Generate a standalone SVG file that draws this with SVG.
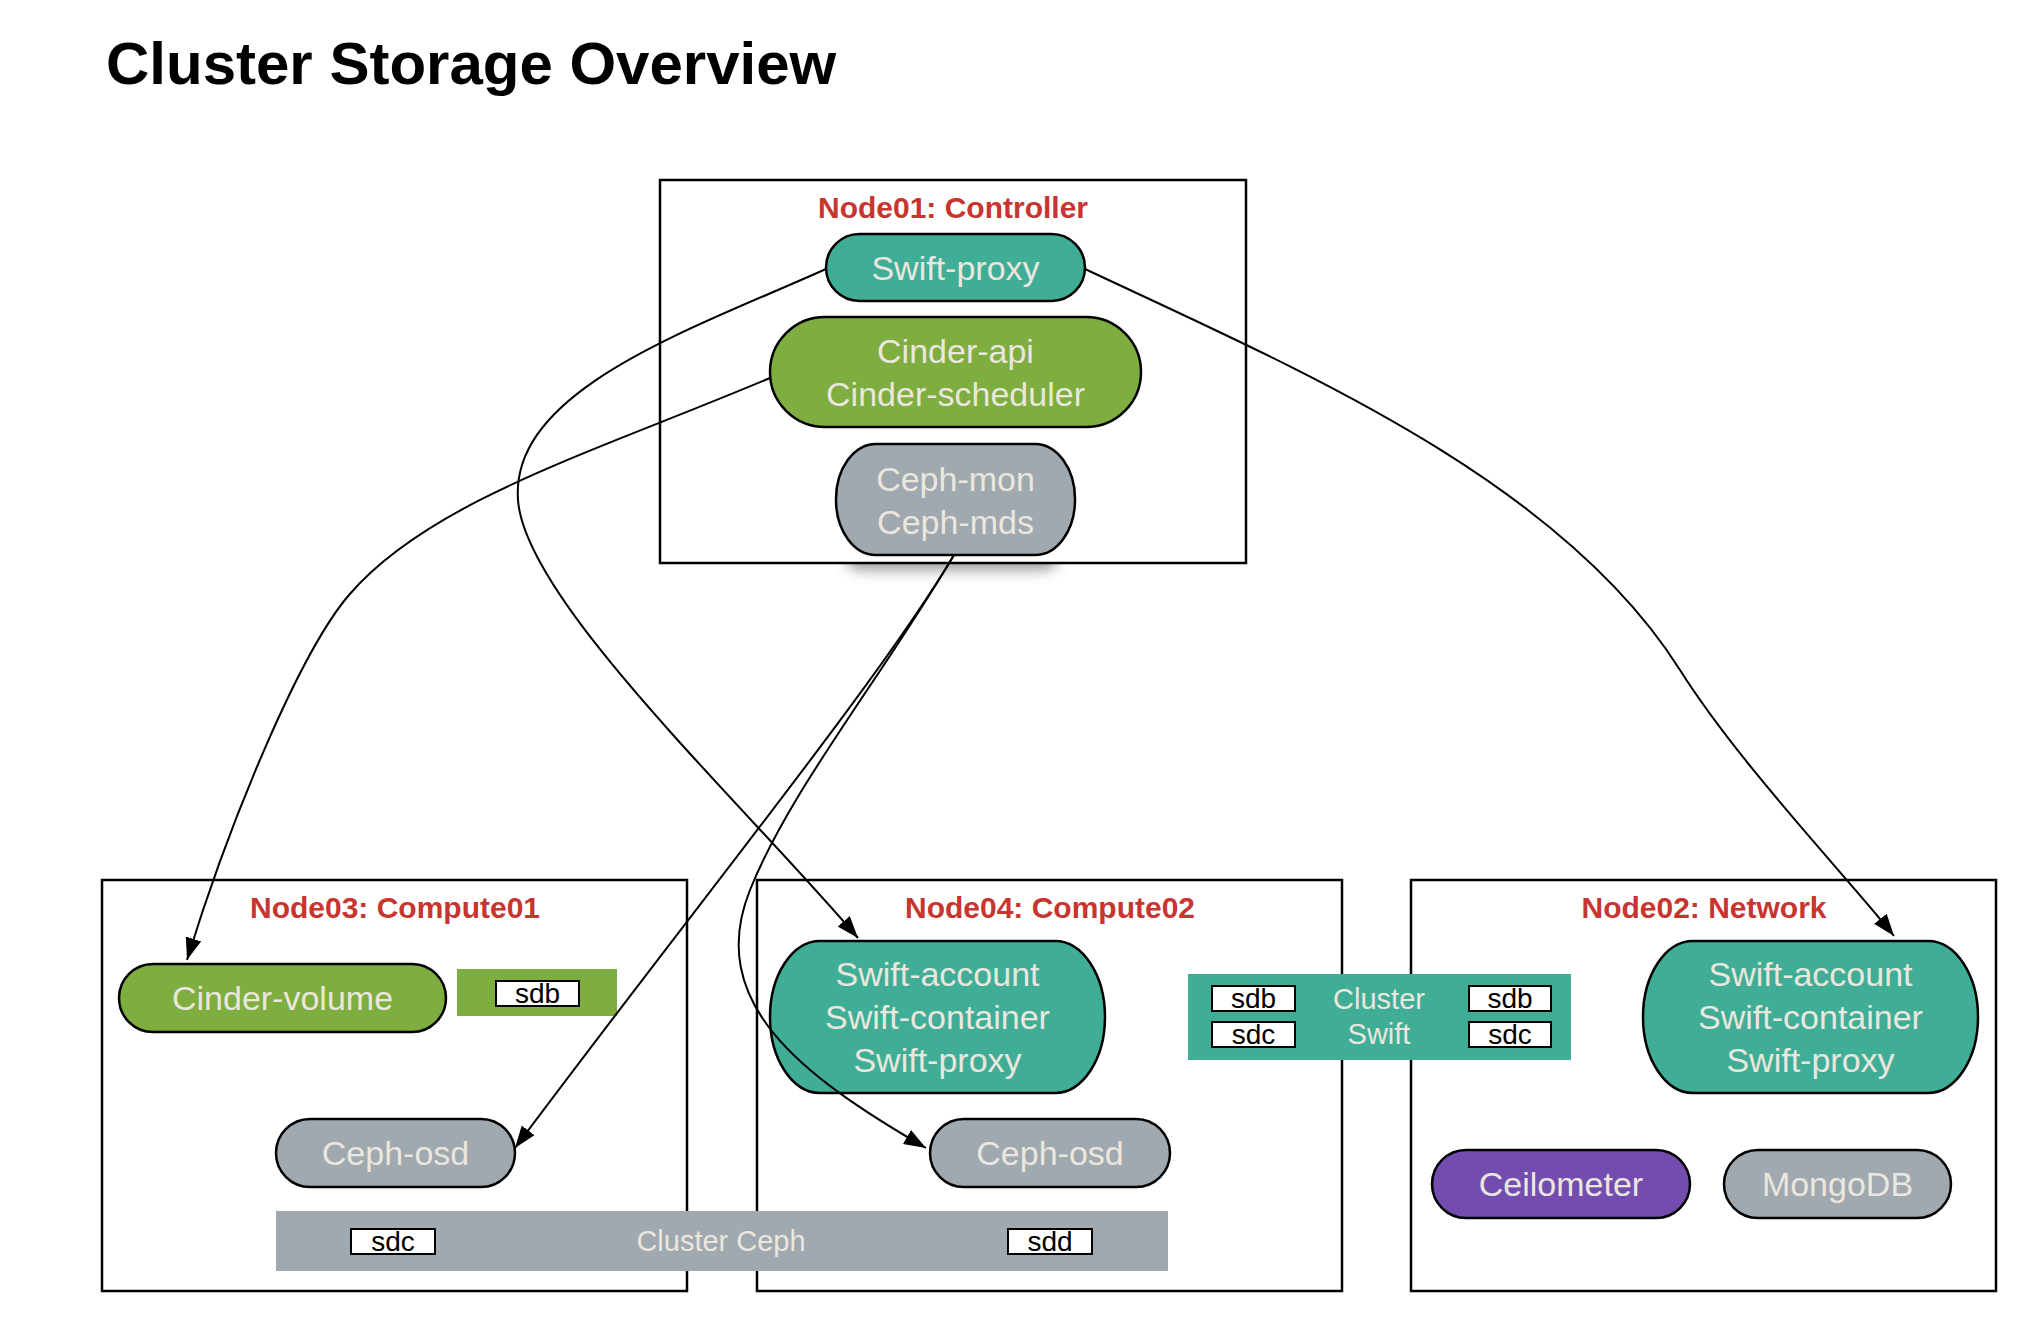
<svg xmlns="http://www.w3.org/2000/svg" width="2025" height="1317" viewBox="0 0 2025 1317">
<defs>
<style>
text{font-family:"Liberation Sans",Arial,Helvetica,sans-serif}
.box{fill:#fff;stroke:#000;stroke-width:2.5}
.ntitle{font-weight:bold;font-size:30px;fill:#c8352f;text-anchor:middle}
.pill{stroke:#000;stroke-width:2.5}
.swift{fill:#40ae96}
.cinder{fill:#7ead40}
.ceph{fill:#9fa9af}
.ceilo{fill:#724daf}
.lbl{font-size:34px;fill:#ebe6de;text-anchor:middle}
.btxt{font-size:29px;fill:#ebe6de;text-anchor:middle}
.disk{fill:#fff;stroke:#000;stroke-width:2}
.dtxt{font-size:28px;fill:#000;text-anchor:middle}
.edge{fill:none;stroke:#000;stroke-width:2;marker-end:url(#arrow)}
</style>
<marker id="arrow" markerUnits="userSpaceOnUse" markerWidth="24" markerHeight="18" refX="22" refY="8" orient="auto">
<path d="M0,0 L22,8 L0,16 z" fill="#000"/>
</marker>
<filter id="blur" x="-20%" y="-60%" width="140%" height="220%"><feGaussianBlur stdDeviation="7"/></filter>
</defs>

<text x="106" y="84" font-size="60" font-weight="bold" fill="#000">Cluster Storage Overview</text>

<!-- shadow under Ceph-mon -->
<rect x="846" y="530" width="212" height="40" rx="14" fill="#8a8a8a" opacity="0.85" filter="url(#blur)"/>

<g id="node01">
<rect class="box" x="660" y="180" width="586" height="383"/>
<text class="ntitle" x="953" y="218">Node01: Controller</text>
</g>
<g id="node03">
<rect class="box" x="102" y="880" width="585" height="411"/>
<text class="ntitle" x="395" y="918">Node03: Compute01</text>
</g>
<g id="node04">
<rect class="box" x="757" y="880" width="585" height="411"/>
<text class="ntitle" x="1050" y="918">Node04: Compute02</text>
</g>
<g id="node02">
<rect class="box" x="1411" y="880" width="585" height="411"/>
<text class="ntitle" x="1704" y="918">Node02: Network</text>
</g>

<g id="swift-proxy-ctl">
<rect class="pill swift" x="826" y="234" width="259" height="67" rx="33.5"/>
<text class="lbl" x="955.5" y="280">Swift-proxy</text>
</g>
<g id="cinder-api">
<rect class="pill cinder" x="770" y="317" width="371" height="110" rx="55"/>
<text class="lbl" x="955.5" y="363">Cinder-api</text>
<text class="lbl" x="955.5" y="406">Cinder-scheduler</text>
</g>
<g id="ceph-mon">
<rect class="pill ceph" x="836" y="444" width="239" height="111" rx="40" ry="55"/>
<text class="lbl" x="955.5" y="491">Ceph-mon</text>
<text class="lbl" x="955.5" y="534">Ceph-mds</text>
</g>

<g id="cinder-volume">
<rect class="pill cinder" x="119" y="964" width="327" height="68" rx="34"/>
<text class="lbl" x="282.5" y="1010">Cinder-volume</text>
</g>
<g id="sdb-cinder">
<rect x="457" y="969" width="160" height="47" fill="#7ead40"/>
<rect class="disk" x="496" y="981" width="83" height="25"/>
<text class="dtxt" x="537.5" y="1003">sdb</text>
</g>
<g id="ceph-osd-1">
<rect class="pill ceph" x="276" y="1119" width="239" height="68" rx="34"/>
<text class="lbl" x="395.5" y="1165">Ceph-osd</text>
</g>

<g id="cluster-ceph">
<rect x="276" y="1211" width="892" height="60" fill="#9fa9af"/>
<rect class="disk" x="351" y="1229" width="84" height="25"/>
<text class="dtxt" x="393" y="1251">sdc</text>
<rect class="disk" x="1008" y="1229" width="84" height="25"/>
<text class="dtxt" x="1050" y="1251">sdd</text>
<text class="btxt" x="721" y="1251">Cluster Ceph</text>
</g>

<g id="swift-storage-1">
<rect class="pill swift" x="770" y="941" width="335" height="152" rx="50" ry="76"/>
<text class="lbl" x="937.5" y="986">Swift-account</text>
<text class="lbl" x="937.5" y="1029">Swift-container</text>
<text class="lbl" x="937.5" y="1072">Swift-proxy</text>
</g>
<g id="ceph-osd-2">
<rect class="pill ceph" x="930" y="1119" width="240" height="68" rx="34"/>
<text class="lbl" x="1050" y="1165">Ceph-osd</text>
</g>

<g id="cluster-swift">
<rect x="1188" y="974" width="383" height="86" fill="#40ae96"/>
<rect class="disk" x="1212" y="986" width="83" height="25"/>
<text class="dtxt" x="1253.5" y="1008">sdb</text>
<rect class="disk" x="1212" y="1022" width="83" height="25"/>
<text class="dtxt" x="1253.5" y="1044">sdc</text>
<rect class="disk" x="1469" y="986" width="82" height="25"/>
<text class="dtxt" x="1510" y="1008">sdb</text>
<rect class="disk" x="1469" y="1022" width="82" height="25"/>
<text class="dtxt" x="1510" y="1044">sdc</text>
<text class="btxt" x="1379" y="1009">Cluster</text>
<text class="btxt" x="1379" y="1044">Swift</text>
</g>

<g id="swift-storage-2">
<rect class="pill swift" x="1643" y="941" width="335" height="152" rx="50" ry="76"/>
<text class="lbl" x="1810.5" y="986">Swift-account</text>
<text class="lbl" x="1810.5" y="1029">Swift-container</text>
<text class="lbl" x="1810.5" y="1072">Swift-proxy</text>
</g>
<g id="ceilometer">
<rect class="pill ceilo" x="1432" y="1150" width="258" height="68" rx="34"/>
<text class="lbl" x="1561" y="1196">Ceilometer</text>
</g>
<g id="mongodb">
<rect class="pill ceph" x="1724" y="1150" width="227" height="68" rx="34"/>
<text class="lbl" x="1837.5" y="1196">MongoDB</text>
</g>

<g id="connectors">
<path class="edge" d="M826,269 C690,330 510,390 518,500 C525,600 740,800 858,938"/>
<path class="edge" d="M770,378 C600,450 430,500 349,595 C300,652 230,820 187,960"/>
<path class="edge" d="M1085,269 C1300,370 1560,480 1680,670 C1740,765 1850,880 1894,936"/>
<path class="edge" d="M954,555 C880,680 700,900 515,1148"/>
<path class="edge" d="M954,555 C880,680 790,790 750,890 C705,1002 800,1075 926,1148"/>
</g>
</svg>
